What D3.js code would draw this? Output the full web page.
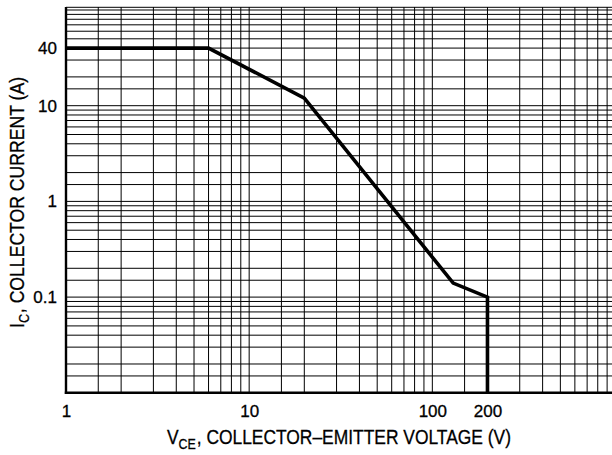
<!DOCTYPE html>
<html>
<head>
<meta charset="utf-8">
<script src="https://cdn.jsdelivr.net/npm/d3@7"></script>
<style>
  html, body { margin: 0; padding: 0; background: #fff; }
  svg { display: block; }
</style>
</head>
<body>
<div id="chart-container"></div>
<script>
// Safe operating area curve
const vce = [1, 6, 20, 130, 200, 200];
const ic = [40, 40, 12, 0.14, 0.1, 0.01];

// Tick labels
const xTicks = [1, 10, 100, 200];
const yTicks = [0.1, 1, 10, 40];

// Log paper grid: decades and mantissas
const xDecades = [1, 10, 100];
const yDecades = [0.01, 0.1, 1, 10];
const gridMant = [1, 1.5, 2, 3, 4, 5, 6, 7, 8, 9];

const svgWidth = 612;
const svgHeight = 455;

const svg = d3.select("#chart-container").append("svg")
    .attr("width", svgWidth)
    .attr("height", svgHeight);

// Scales (the plot runs past the right edge of the picture)
const x = d3.scaleLog().domain([1, 1000]).range([66, 615.5]);
const y = d3.scaleLog().domain([0.01, 100]).range([392.8, 10]);

const xGrid = xDecades.flatMap(d => gridMant.map(m => d * m)).concat([1000]);
const yGrid = yDecades.flatMap(d => gridMant.map(m => d * m)).concat([100]);

const grid = svg.append("g").attr("class", "grid");

// Vertical grid lines
grid.selectAll(".vline")
    .data(xGrid)
    .enter().append("line")
    .attr("x1", d => x(d))
    .attr("x2", d => x(d))
    .attr("y1", 7)
    .attr("y2", y(0.01))
    .attr("stroke", "#000")
    .attr("stroke-width", 1);

// Horizontal grid lines
grid.selectAll(".hline")
    .data(yGrid)
    .enter().append("line")
    .attr("x1", x(1))
    .attr("x2", svgWidth)
    .attr("y1", d => y(d))
    .attr("y2", d => y(d))
    .attr("stroke", "#000")
    .attr("stroke-width", 1);

// Top border
grid.append("line")
    .attr("x1", x(1)).attr("x2", svgWidth)
    .attr("y1", 7.3).attr("y2", 7.3)
    .attr("stroke", "#000").attr("stroke-width", 1);

// Heavy left and bottom borders
svg.append("line")
    .attr("x1", x(1)).attr("x2", x(1))
    .attr("y1", 7).attr("y2", y(0.01) + 1.2)
    .attr("stroke", "#000").attr("stroke-width", 2.4);

svg.append("line")
    .attr("x1", x(1) - 1.2).attr("x2", svgWidth)
    .attr("y1", y(0.01)).attr("y2", y(0.01))
    .attr("stroke", "#000").attr("stroke-width", 2.6);

// SOA curve
const pts = vce.map((v, i) => [v, ic[i]]);
const line = d3.line()
    .x(d => x(d[0]))
    .y(d => y(d[1]));

svg.append("path")
    .datum(pts)
    .attr("d", line)
    .attr("fill", "none")
    .attr("stroke", "#000")
    .attr("stroke-width", 3.6)
    .attr("stroke-linejoin", "miter");

// Axes, only for tick labels
const xAxis = svg.append("g")
    .attr("transform", `translate(0,${y(0.01)})`)
    .call(d3.axisBottom(x).tickValues(xTicks).tickFormat(d3.format("")).tickSize(0).tickPadding(12));

const yAxis = svg.append("g")
    .attr("transform", `translate(${x(1)},0)`)
    .call(d3.axisLeft(y).tickValues(yTicks).tickFormat(d3.format("")).tickSize(0).tickPadding(9));

[xAxis, yAxis].forEach(a => {
    a.select(".domain").remove();
    a.selectAll("text")
        .attr("font-family", "'Liberation Sans', Arial, sans-serif")
        .attr("font-size", 17)
        .attr("fill", "#000")
        .attr("stroke", "#000")
        .attr("stroke-width", 0.3);
});

// X axis title
const xTitle = svg.append("text")
    .attr("x", 339)
    .attr("y", 443.5)
    .attr("text-anchor", "middle")
    .attr("font-family", "'Liberation Sans', Arial, sans-serif")
    .attr("font-size", 21)
    .attr("stroke", "#000")
    .attr("stroke-width", 0.3)
    .attr("textLength", 344)
    .attr("lengthAdjust", "spacingAndGlyphs");
xTitle.append("tspan").text("V");
xTitle.append("tspan").attr("dy", 5).attr("font-size", 15).text("CE");
xTitle.append("tspan").attr("dy", -5).attr("dx", 1).text(", COLLECTOR–EMITTER VOLTAGE (V)");

// Y axis title
const yTitle = svg.append("text")
    .attr("transform", "translate(23.5,202.5) rotate(-90)")
    .attr("text-anchor", "middle")
    .attr("font-family", "'Liberation Sans', Arial, sans-serif")
    .attr("font-size", 21)
    .attr("stroke", "#000")
    .attr("stroke-width", 0.3)
    .attr("textLength", 251)
    .attr("lengthAdjust", "spacingAndGlyphs");
yTitle.append("tspan").text("I");
yTitle.append("tspan").attr("dy", 5).attr("font-size", 15).text("C");
yTitle.append("tspan").attr("dy", -5).attr("dx", 1).text(", COLLECTOR CURRENT (A)");
</script>
</body>
</html>
